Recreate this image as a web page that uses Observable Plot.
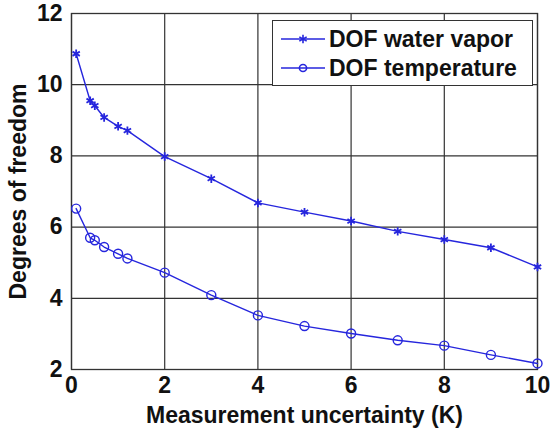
<!DOCTYPE html>
<html>
<head>
<meta charset="utf-8">
<script src="https://cdn.jsdelivr.net/npm/d3@7"></script>
<script src="https://cdn.jsdelivr.net/npm/@observablehq/plot@0.6"></script>
<style>
  html, body { margin: 0; padding: 0; background: white; }
  #wrap { position: relative; width: 550px; height: 432px; }
  #legend {
    position: absolute; left: 272px; top: 20px; width: 261px; height: 66px;
    background: white; border: 1.2px solid #333; box-sizing: border-box;
    font-family: "Liberation Sans", Arial, sans-serif; font-weight: bold; font-size: 23px; color: #111;
  }
  .row { position: absolute; left: 6px; height: 26px; display: flex; align-items: center; }
  .row svg { margin-right: 4px; }
</style>
</head>
<body>
<div id="wrap"><div id="chart"></div><div id="legend"></div></div>
<script>
const uncertainty = [0.1, 0.4, 0.5, 0.7, 1, 1.2, 2, 3, 4, 5, 6, 7, 8, 9, 10];
const dofWaterVapor = [10.87, 9.55, 9.41, 9.08, 8.83, 8.71, 7.98, 7.36, 6.68, 6.42, 6.17, 5.88, 5.65, 5.42, 4.88];
const dofTemperature = [6.52, 5.70, 5.63, 5.44, 5.25, 5.12, 4.72, 4.09, 3.52, 3.22, 3.01, 2.82, 2.67, 2.41, 2.17];
const xTicks = [0, 2, 4, 6, 8, 10];
const yTicks = [2, 4, 6, 8, 10, 12];
const seriesNames = ["DOF water vapor", "DOF temperature"];

const blue = "#2626dd";
const data = uncertainty.map((u, i) => ({u, wv: dofWaterVapor[i], t: dofTemperature[i]}));

const chart = Plot.plot({
  width: 550, height: 432,
  marginLeft: 71, marginRight: 13, marginTop: 13, marginBottom: 63,
  style: {fontFamily: "'Liberation Sans', Arial, sans-serif", fontSize: "23px", fontWeight: "bold", color: "#111", background: "white"},
  x: {domain: [0, 10]},
  y: {domain: [2, 12]},
  marks: [
    Plot.gridX(xTicks, {stroke: "#333", strokeOpacity: 1, strokeWidth: 1.2}),
    Plot.gridY(yTicks, {stroke: "#333", strokeOpacity: 1, strokeWidth: 1.2}),
    Plot.frame({stroke: "#333", strokeWidth: 1.3}),
    Plot.axisX(xTicks, {tickSize: 0, tickPadding: 7, label: "Measurement uncertainty (K)", labelAnchor: "center", labelArrow: false, labelOffset: 53}),
    Plot.axisY(yTicks, {tickSize: 0, tickPadding: 9, label: "Degrees of freedom", labelAnchor: "center", labelArrow: false, labelOffset: 62}),
    Plot.line(data, {x: "u", y: "wv", stroke: blue, strokeWidth: 1.4}),
    Plot.dot(data, {x: "u", y: "wv", symbol: "asterisk", stroke: blue, strokeWidth: 1.8, r: 4}),
    Plot.line(data, {x: "u", y: "t", stroke: blue, strokeWidth: 1.4}),
    Plot.dot(data, {x: "u", y: "t", symbol: "circle", stroke: blue, fill: "none", strokeWidth: 1.4, r: 4.5})
  ]
});
document.getElementById("chart").appendChild(chart);

// legend
const legend = document.getElementById("legend");
const symbols = ["asterisk", "circle"];
seriesNames.forEach((name, i) => {
  const row = document.createElement("div");
  row.className = "row";
  row.style.top = (5 + i * 29) + "px";
  const sym = d3.symbol(symbols[i] === "asterisk" ? d3.symbolAsterisk : d3.symbolCircle, symbols[i] === "asterisk" ? 50 : 40)();
  row.innerHTML = `<svg width="46" height="20"><line x1="2" x2="46" y1="10" y2="10" stroke="${blue}" stroke-width="1.4"/>` +
    `<path d="${sym}" transform="translate(24,10)" fill="none" stroke="${blue}" stroke-width="1.6"/></svg><span>${name}</span>`;
  legend.appendChild(row);
});
</script>
</body>
</html>
